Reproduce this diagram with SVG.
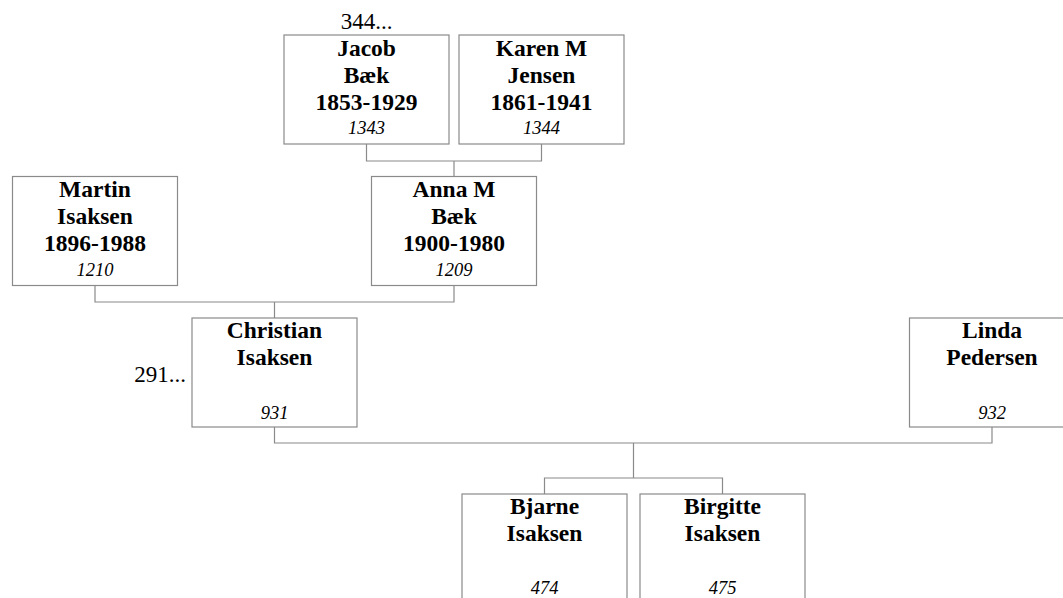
<svg xmlns="http://www.w3.org/2000/svg" width="1063" height="598" viewBox="0 0 1063 598">
<style>
.box{fill:#fff;stroke:#8a8a8a;stroke-width:1.2}
.ln{fill:none;stroke:#8a8a8a;stroke-width:1.2}
.b{font-family:"Liberation Serif","Times New Roman",serif;font-weight:bold;font-size:23.5px;text-anchor:middle;fill:#000}
.i{font-family:"Liberation Serif","Times New Roman",serif;font-style:italic;font-size:18.5px;text-anchor:middle;fill:#000}
.r{font-family:"Liberation Serif","Times New Roman",serif;font-size:23px;fill:#000}
</style>
<rect width="1063" height="598" fill="#fff"/>
<g id="connectors">
<path class="ln" d="M366.5 144V161H541.5V144M454 161V176.5"/>
<path class="ln" d="M95 285.5V302H454V285.5M274.5 302V318"/>
<path class="ln" d="M274.5 427V443H992V427M633.5 443V478M544.5 494V478H722.5V494"/>
</g>
<g id="n1343">
<rect class="box" x="284" y="35" width="165" height="109"/>
<text class="r" x="366.5" y="28.5" text-anchor="middle">344...</text>
<text class="b" x="366.5" y="55.5">Jacob</text>
<text class="b" x="366.5" y="82.5">Bæk</text>
<text class="b" x="366.5" y="109.5">1853-1929</text>
<text class="i" x="366.5" y="133.5">1343</text>
</g>
<g id="n1344">
<rect class="box" x="459" y="35" width="165" height="109"/>
<text class="b" x="541.5" y="55.5">Karen M</text>
<text class="b" x="541.5" y="82.5">Jensen</text>
<text class="b" x="541.5" y="109.5">1861-1941</text>
<text class="i" x="541.5" y="133.5">1344</text>
</g>
<g id="n1210">
<rect class="box" x="12.5" y="176.5" width="165" height="109"/>
<text class="b" x="95" y="197">Martin</text>
<text class="b" x="95" y="224">Isaksen</text>
<text class="b" x="95" y="251">1896-1988</text>
<text class="i" x="95" y="275.5">1210</text>
</g>
<g id="n1209">
<rect class="box" x="371.5" y="176.5" width="165" height="109"/>
<text class="b" x="454" y="197">Anna M</text>
<text class="b" x="454" y="224">Bæk</text>
<text class="b" x="454" y="251">1900-1980</text>
<text class="i" x="454" y="275.5">1209</text>
</g>
<g id="n931">
<rect class="box" x="192" y="318" width="165" height="109"/>
<text class="r" x="186" y="381.5" text-anchor="end">291...</text>
<text class="b" x="274.5" y="338">Christian</text>
<text class="b" x="274.5" y="365">Isaksen</text>
<text class="i" x="274.5" y="418.5">931</text>
</g>
<g id="n932">
<rect class="box" x="909.5" y="318" width="165" height="109"/>
<text class="b" x="992" y="338">Linda</text>
<text class="b" x="992" y="365">Pedersen</text>
<text class="i" x="992" y="418.5">932</text>
</g>
<g id="n474">
<rect class="box" x="462" y="494" width="165" height="109"/>
<text class="b" x="544.5" y="514">Bjarne</text>
<text class="b" x="544.5" y="541">Isaksen</text>
<text class="i" x="544.5" y="593.5">474</text>
</g>
<g id="n475">
<rect class="box" x="640" y="494" width="165" height="109"/>
<text class="b" x="722.5" y="514">Birgitte</text>
<text class="b" x="722.5" y="541">Isaksen</text>
<text class="i" x="722.5" y="593.5">475</text>
</g>
</svg>
